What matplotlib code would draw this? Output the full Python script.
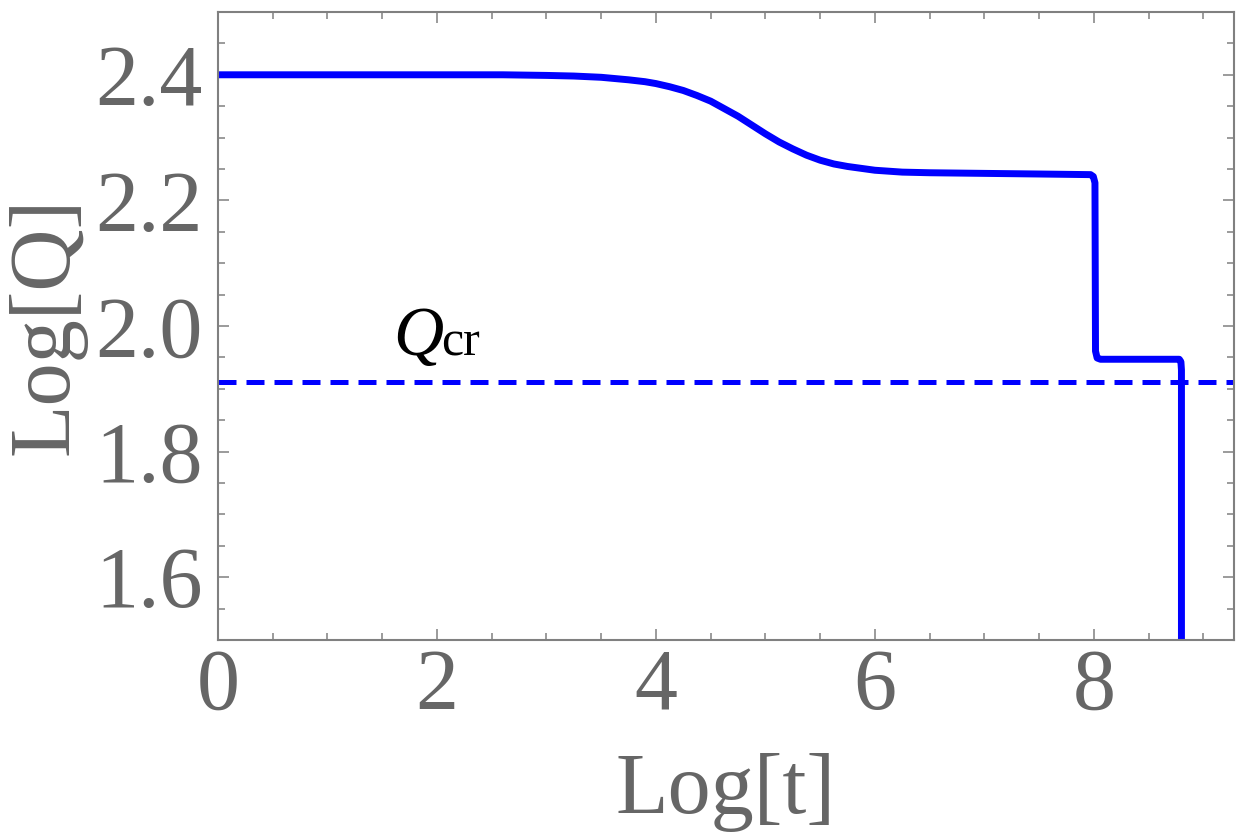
import matplotlib
matplotlib.use('Agg')
import matplotlib.pyplot as plt
from matplotlib.ticker import MultipleLocator

# Curve: Log[t] vs Log[Q]
log_t = [0.0, 1.0, 2.0, 2.6, 3.0, 3.25, 3.5, 3.75, 3.9, 4.0, 4.125, 4.25,
         4.375, 4.5, 4.625, 4.75, 4.875, 5.0, 5.125, 5.25, 5.375, 5.5,
         5.625, 5.75, 5.875, 6.0, 6.25, 6.5, 7.0, 7.5, 7.97, 7.995,
         8.01, 8.015, 8.03, 8.06, 8.4, 8.78, 8.795, 8.80, 8.80]
log_q = [2.400, 2.400, 2.400, 2.400, 2.399, 2.398, 2.396, 2.392, 2.389,
         2.386, 2.381, 2.375, 2.367, 2.358, 2.346, 2.334, 2.320, 2.306,
         2.293, 2.282, 2.272, 2.264, 2.258, 2.254, 2.251, 2.248, 2.245,
         2.244, 2.243, 2.242, 2.241, 2.238, 2.228, 1.960, 1.949, 1.947,
         1.947, 1.947, 1.943, 1.930, 1.400]

# critical value (dashed line)
q_cr = 1.911

x_ticks = [0, 2, 4, 6, 8]
y_ticks = [1.6, 1.8, 2.0, 2.2, 2.4]

plt.rcParams['font.family'] = ['Liberation Serif', 'DejaVu Serif']
gray = '#666666'

fig = plt.figure(figsize=(12.5, 8.38), dpi=100)
ax = fig.add_axes([0.1744, 0.2363, 0.8128, 0.7494])

ax.plot(log_t, log_q, color='#0000ff', lw=5, solid_joinstyle='round',
        solid_capstyle='butt')
ax.axhline(q_cr, color='#0000ff', lw=3.6, ls=(0, (3.6, 2.0)))

ax.text(1.6, 1.953, 'Q', fontsize=50, style='italic', color='black')
ax.text(2.04, 1.953, 'cr', fontsize=36, color='black')

ax.set_xlim(0, 9.28)
ax.set_ylim(1.5, 2.5)
ax.set_xticks(x_ticks)
ax.set_yticks(y_ticks)
ax.set_xticklabels([str(v) for v in x_ticks])
ax.set_yticklabels(['%.1f' % v for v in y_ticks])
ax.xaxis.set_minor_locator(MultipleLocator(0.5))
ax.yaxis.set_minor_locator(MultipleLocator(0.05))

ax.tick_params(which='both', direction='in', top=True, right=True,
               color='#808080', width=1.1, labelsize=62, labelcolor=gray)
ax.tick_params(which='major', length=8)
ax.tick_params(which='minor', length=5)
ax.tick_params(axis='x', which='major', pad=6)
ax.tick_params(axis='y', which='major', pad=11)

for s in ax.spines.values():
    s.set_color('#808080')
    s.set_linewidth(1.5)

ax.set_xlabel('Log[t]', fontsize=62, color=gray, labelpad=18)
ax.set_ylabel('Log[Q]', fontsize=62, color=gray, labelpad=6)

fig.savefig('out.png', dpi=100)
